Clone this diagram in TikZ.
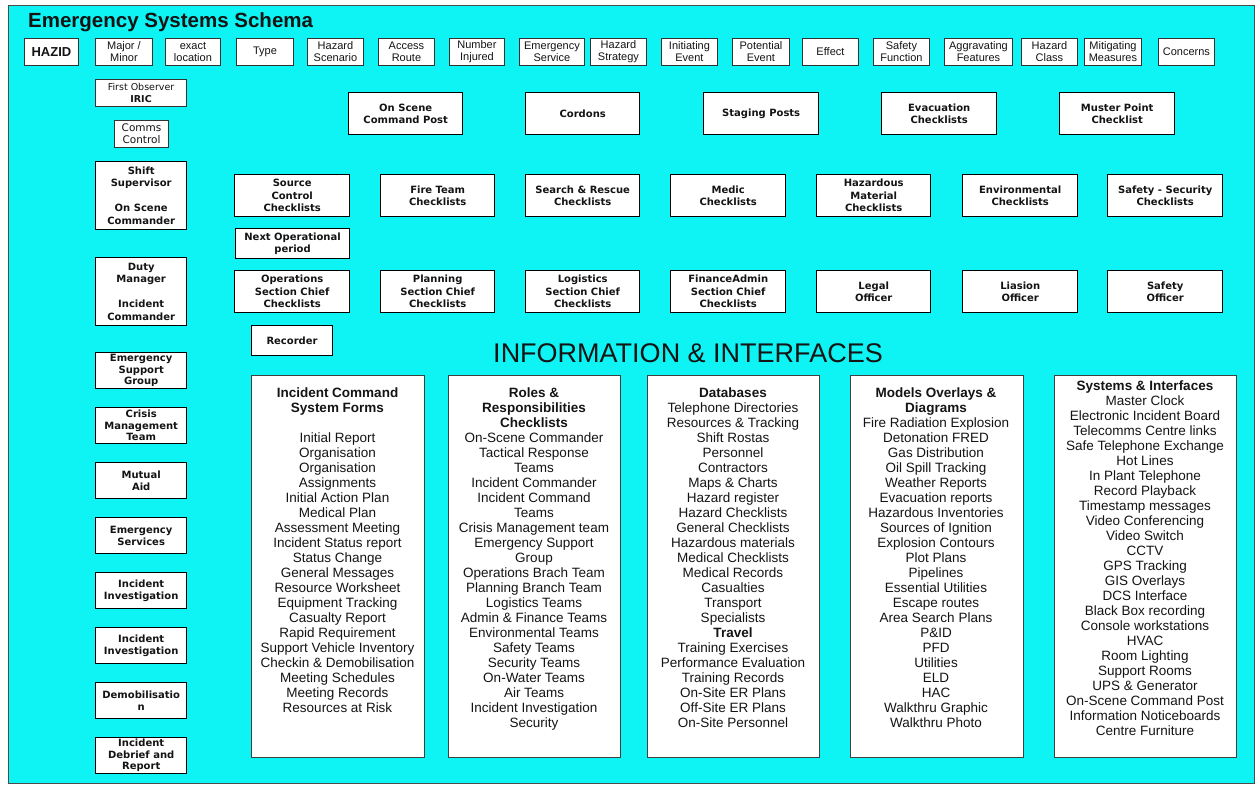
\documentclass[tikz,border=0pt]{standalone}
\usepackage{fontspec}
\setmainfont{Liberation Sans}
\newfontfamily\dv{DejaVu Sans}
\definecolor{bgc}{RGB}{14,244,244}
\definecolor{ink}{RGB}{20,20,20}
\setlength{\tabcolsep}{0pt}
\tikzset{
  hbox/.style={draw=black!80, line width=0.9pt, fill=white, inner sep=0pt, align=center, text=ink,
    font=\fontsize{11}{12}\selectfont},
  mbox/.style={draw=black, line width=1.4pt, fill=white, inner sep=0pt, align=center, text=ink,
    font=\dv\bfseries\fontsize{10}{12.5}\selectfont},
  tbox/.style={mbox, font=\dv\bfseries\fontsize{10}{11.5}\selectfont},
  rbox/.style={hbox, line width=1.1pt, font=\dv\fontsize{9.5}{12}\selectfont},
  ibox/.style={draw=black!75, line width=0.9pt, fill=white, inner sep=0pt},
  itext/.style={inner sep=0pt, text=ink, font=\fontsize{13.5}{15}\selectfont, anchor=base},
}
\newcommand\B[7]{\node[#1, minimum width={(#5)-(#3)}, minimum height={(#6)-(#4)}, anchor=north west] (#2) at (#3,#4) {#7};}
\newcommand\Lst[1]{\begin{tabular}[t]{c}#1\end{tabular}}
\begin{document}
\begin{tikzpicture}[x=1pt,y=-1pt]
\useasboundingbox (0,0) rectangle (1255,785);
\fill[white] (0,0) rectangle (1255,785);
\draw[fill=bgc, draw=black!70, line width=0.8pt] (8,5) rectangle (1254.5,783.5);
\node[anchor=base west, text=ink, inner sep=0pt, font=\bfseries\fontsize{20.5}{24}\selectfont] (title) at (28,27) {Emergency Systems Schema};
% top row
\B{hbox, font=\bfseries\fontsize{13}{14}\selectfont}{hazid}{24}{38}{78}{65}{HAZID}
\B{hbox}{major}{95}{38}{152}{65}{Major /\\Minor}
\B{hbox}{loc}{165}{38}{220}{65}{exact\\location}
\B{hbox}{type}{236}{38}{293}{65}{Type}
\B{hbox}{hscen}{307}{38}{363}{65}{Hazard\\Scenario}
\B{hbox}{access}{378}{38}{434}{65}{Access\\Route}
\B{hbox}{injured}{449}{38}{504}{65}{Number\\Injured}
\B{hbox}{emserv}{519}{38}{584}{65}{Emergency\\Service}
\B{hbox}{hstrat}{590}{38}{646}{65}{Hazard\\Strategy}
\B{hbox}{initev}{661}{38}{717}{65}{Initiating\\Event}
\B{hbox}{potev}{732}{38}{789}{65}{Potential\\Event}
\B{hbox}{effect}{802}{38}{858}{65}{Effect}
\B{hbox}{safefn}{873}{38}{929}{65}{Safety\\Function}
\B{hbox}{aggr}{944}{38}{1012}{65}{Aggravating\\Features}
\B{hbox}{hclass}{1021}{38}{1077}{65}{Hazard\\Class}
\B{hbox}{mitig}{1084}{38}{1141}{65}{Mitigating\\Measures}
\B{hbox}{concerns}{1158}{38}{1214}{65}{Concerns}
% left column
\B{rbox}{firstobs}{95}{79}{186}{106}{First Observer\\\textbf{IRIC}}
\B{rbox, font=\dv\fontsize{10.5}{12}\selectfont}{comms}{114}{120}{168}{147}{Comms\\Control}
\B{mbox}{shift}{95}{161}{186}{229}{Shift\\Supervisor\\[12.5pt]On Scene\\Commander}
\B{mbox}{duty}{95}{257}{186}{325}{Duty\\Manager\\[12.5pt]Incident\\Commander}
\B{tbox}{esg}{95}{352}{186}{388}{Emergency\\Support\\Group}
\B{tbox}{cmt}{95}{407}{186}{443}{Crisis\\Management\\Team}
\B{mbox}{mutual}{95}{462}{186}{498}{Mutual\\Aid}
\B{mbox}{emsvc}{95}{517}{186}{553}{Emergency\\Services}
\B{mbox}{inv1}{95}{572}{186}{608}{Incident\\Investigation}
\B{mbox}{inv2}{95}{627}{186}{663}{Incident\\Investigation}
\B{mbox}{demob}{95}{682}{186}{718}{Demobilisatio\\n}
\B{tbox}{debrief}{95}{737}{186}{773}{Incident\\Debrief and\\Report}
% row A
\B{mbox}{oscp}{348}{92}{462}{134}{On Scene\\Command Post}
\B{mbox}{cordons}{525}{92}{639}{134}{Cordons}
\B{mbox}{staging}{703}{92}{818}{134}{Staging Posts}
\B{mbox}{evac}{881}{92}{996}{134}{Evacuation\\Checklists}
\B{mbox}{muster}{1059}{92}{1174}{134}{Muster Point\\Checklist}
% row B
\B{mbox}{source}{234}{174}{349}{216}{Source\\Control\\Checklists}
\B{mbox}{fire}{380}{174}{494}{216}{Fire Team\\Checklists}
\B{mbox}{search}{525}{174}{639}{216}{Search \& Rescue\\Checklists}
\B{mbox}{medic}{670}{174}{785}{216}{Medic\\Checklists}
\B{mbox}{hazmat}{816}{174}{930}{216}{Hazardous\\Material\\Checklists}
\B{mbox}{env}{962}{174}{1077}{216}{Environmental\\Checklists}
\B{mbox}{safesec}{1107}{174}{1222}{216}{Safety - Security\\Checklists}
\B{mbox, line width=1.1pt}{nextop}{235}{228}{349}{258}{Next Operational\\period}
% row C
\B{mbox}{ops}{234}{270}{349}{312}{Operations\\Section Chief\\Checklists}
\B{mbox}{plan}{380}{270}{494}{312}{Planning\\Section Chief\\Checklists}
\B{mbox}{logi}{525}{270}{639}{312}{Logistics\\Section Chief\\Checklists}
\B{mbox}{fin}{670}{270}{785}{312}{FinanceAdmin\\Section Chief\\Checklists}
\B{mbox}{legal}{816}{270}{930}{312}{Legal\\Officer}
\B{mbox}{liaison}{962}{270}{1077}{312}{Liasion\\Officer}
\B{mbox}{safeoff}{1107}{270}{1222}{312}{Safety\\Officer}
\B{mbox, line width=1.1pt}{recorder}{251}{325}{332}{355}{Recorder}
% heading
\node[anchor=base, text=ink, inner sep=0pt, font=\fontsize{27}{30}\selectfont] (info) at (688,362) {INFORMATION \& INTERFACES};
% info boxes
\B{ibox}{ib1}{251}{375}{424}{757}{}
\B{ibox}{ib2}{448}{375}{620}{757}{}
\B{ibox}{ib3}{647}{375}{819}{757}{}
\B{ibox}{ib4}{850}{375}{1023}{757}{}
\B{ibox}{ib5}{1054}{375}{1236}{757}{}
\node[itext] (t1) at (337.5,397) {\Lst{\textbf{Incident Command}\\\textbf{System Forms}\\[15pt]Initial Report\\Organisation\\Organisation\\Assignments\\Initial Action Plan\\Medical Plan\\Assessment Meeting\\Incident Status report\\Status Change\\General Messages\\Resource Worksheet\\Equipment Tracking\\Casualty Report\\Rapid Requirement\\Support Vehicle Inventory\\Checkin \& Demobilisation\\Meeting Schedules\\Meeting Records\\Resources at Risk}};
\node[itext] (t2) at (534,397) {\Lst{\textbf{Roles \&}\\\textbf{Responsibilities}\\\textbf{Checklists}\\On-Scene Commander\\Tactical Response\\Teams\\Incident Commander\\Incident Command\\Teams\\Crisis Management team\\Emergency Support\\Group\\Operations Brach Team\\Planning Branch Team\\Logistics Teams\\Admin \& Finance Teams\\Environmental Teams\\Safety Teams\\Security Teams\\On-Water Teams\\Air Teams\\Incident Investigation\\Security}};
\node[itext] (t3) at (733,397) {\Lst{\textbf{Databases}\\Telephone Directories\\Resources \& Tracking\\Shift Rostas\\Personnel\\Contractors\\Maps \& Charts\\Hazard register\\Hazard Checklists\\General Checklists\\Hazardous materials\\Medical Checklists\\Medical Records\\Casualties\\Transport\\Specialists\\\textbf{Travel}\\Training Exercises\\Performance Evaluation\\Training Records\\On-Site ER Plans\\Off-Site ER Plans\\On-Site Personnel}};
\node[itext] (t4) at (936,397) {\Lst{\textbf{Models Overlays \&}\\\textbf{Diagrams}\\Fire Radiation Explosion\\Detonation FRED\\Gas Distribution\\Oil Spill Tracking\\Weather Reports\\Evacuation reports\\Hazardous Inventories\\Sources of Ignition\\Explosion Contours\\Plot Plans\\Pipelines\\Essential Utilities\\Escape routes\\Area Search Plans\\P\&ID\\PFD\\Utilities\\ELD\\HAC\\Walkthru Graphic\\Walkthru Photo}};
\node[itext] (t5) at (1145,390) {\Lst{\textbf{Systems \& Interfaces}\\Master Clock\\Electronic Incident Board\\Telecomms Centre links\\Safe Telephone Exchange\\Hot Lines\\In Plant Telephone\\Record Playback\\Timestamp messages\\Video Conferencing\\Video Switch\\CCTV\\GPS Tracking\\GIS Overlays\\DCS Interface\\Black Box recording\\Console workstations\\HVAC\\Room Lighting\\Support Rooms\\UPS \& Generator\\On-Scene Command Post\\Information Noticeboards\\Centre Furniture}};
\end{tikzpicture}
\end{document}
